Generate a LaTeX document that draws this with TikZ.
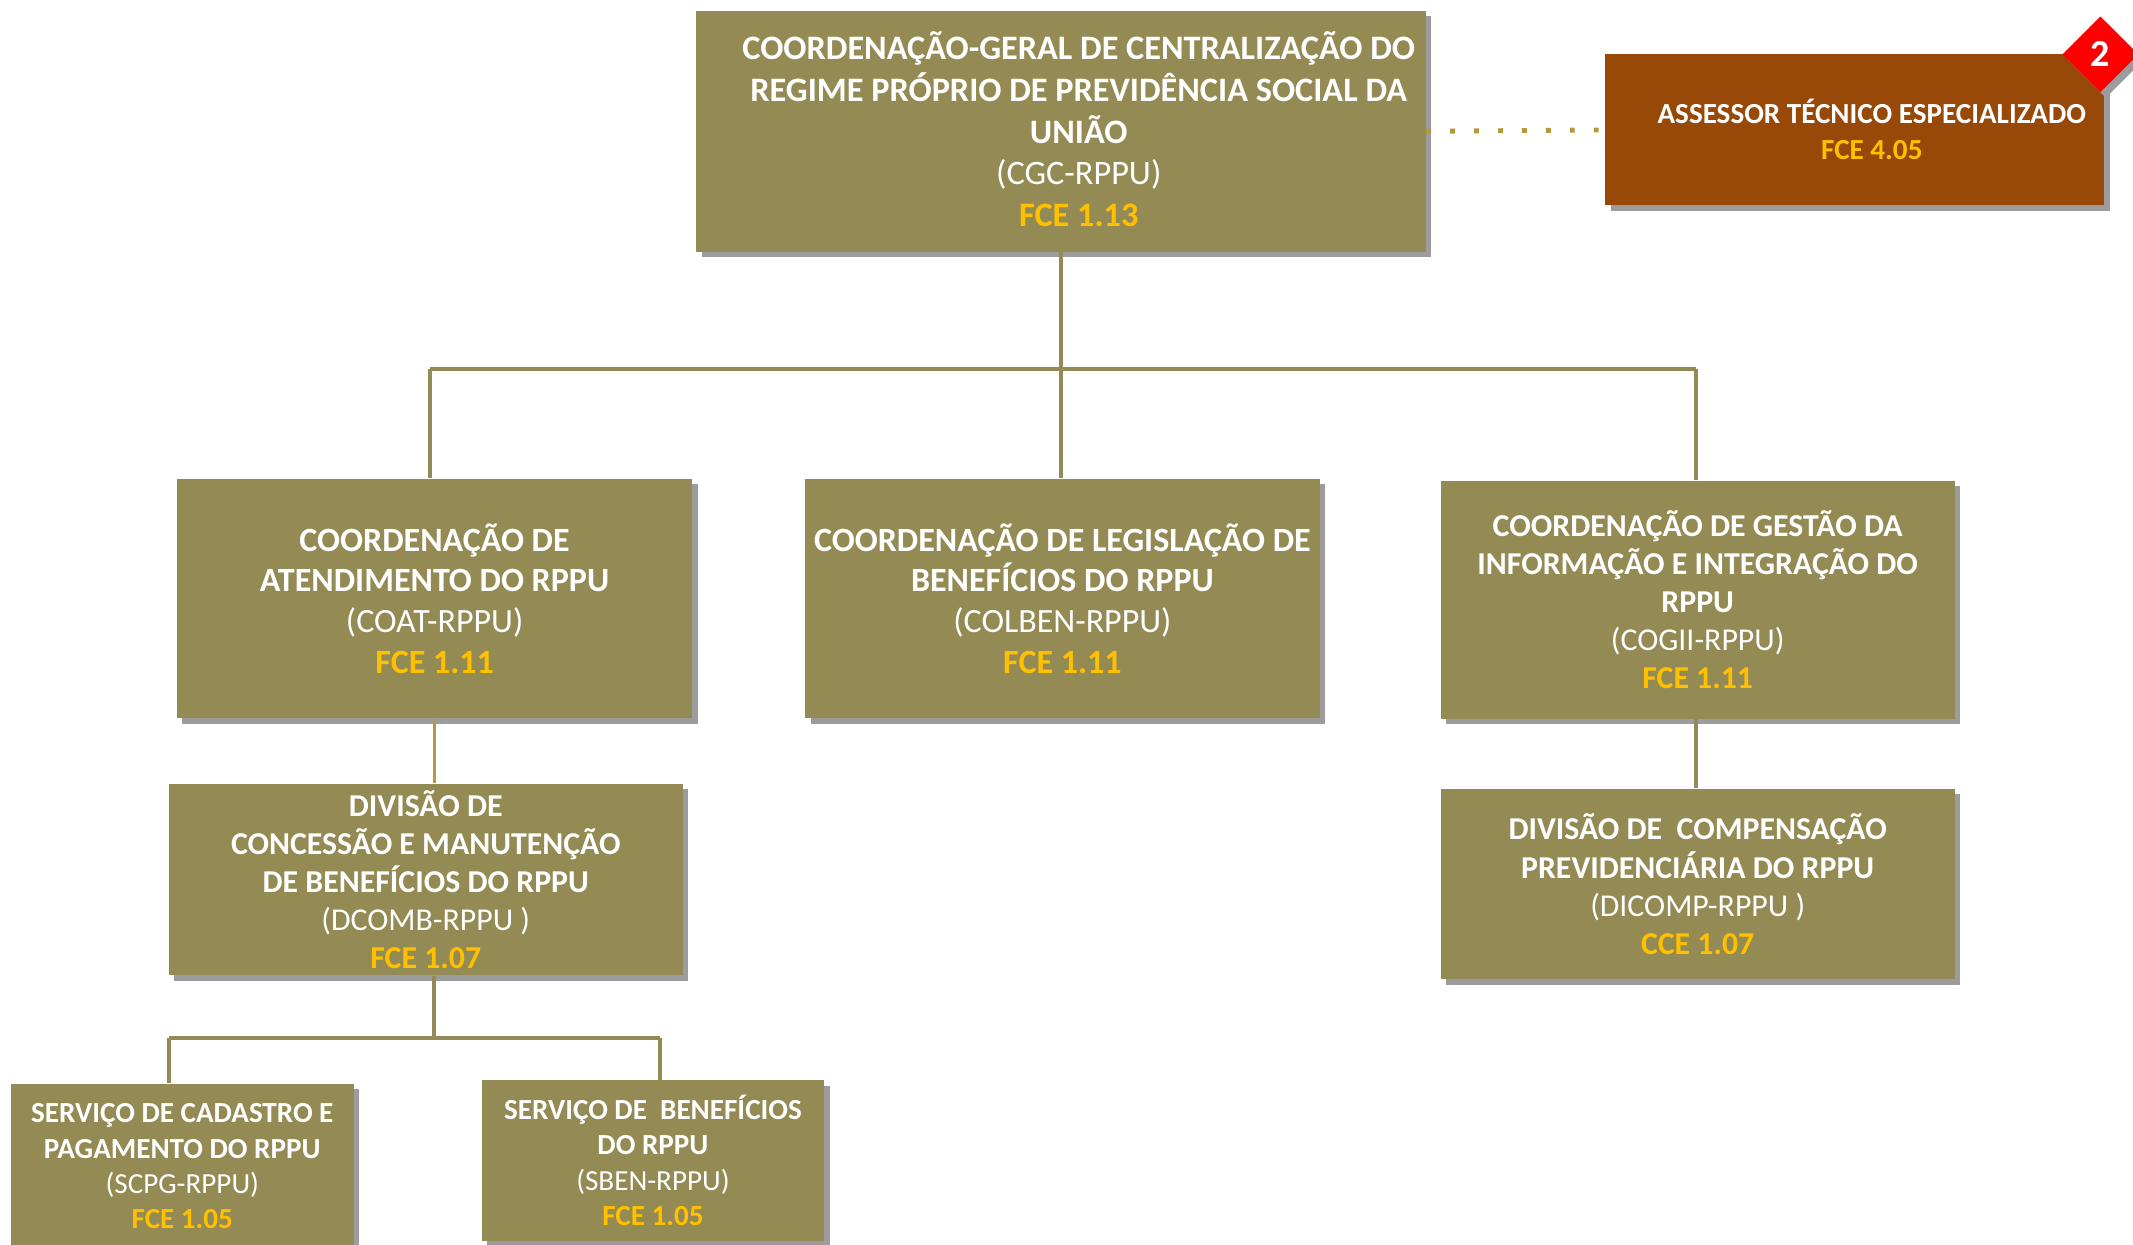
\documentclass[tikz,border=0pt]{standalone}
\usepackage{fontspec}
\setmainfont{Carlito}
\usetikzlibrary{shadows,shapes.geometric}
\definecolor{boxolive}{HTML}{948A54}
\definecolor{boxbrown}{HTML}{984807}
\definecolor{fceyellow}{HTML}{FFC000}
\definecolor{shadowgray}{HTML}{9C9C9C}
\definecolor{lineolive}{HTML}{948A54}
\definecolor{linegold}{HTML}{B59A3C}
\tikzset{
  orgbox/.style={fill=boxolive, text=white, inner sep=0pt, align=center,
    drop shadow={shadow xshift=2pt, shadow yshift=-2pt, fill=shadowgray, opacity=1}},
  fsA/.style={font=\fontsize{12.6}{15.4}\selectfont},
  fsB/.style={font=\fontsize{12.5}{15}\selectfont},
  fsC/.style={font=\fontsize{11.7}{14}\selectfont},
  fsD/.style={font=\fontsize{10.7}{13}\selectfont},
  conn/.style={draw=lineolive, line width=1.4pt},
  conngold/.style={draw=linegold, line width=1.1pt},
  dotline/.style={draw=linegold, line width=1.8pt, dash pattern=on 1.8pt off 7pt},
}
\newcommand{\fce}[1]{\textcolor{fceyellow}{\textbf{#1}}}
\begin{document}
\begin{tikzpicture}[x=0.5pt,y=-0.5pt]
\useasboundingbox (0,0) rectangle (1568,915);

\coordinate (busL) at (316,271);
\coordinate (busM) at (780,271);
\coordinate (busR) at (1247,271);
\coordinate (bus2L) at (124,763);
\coordinate (bus2M) at (319,763);
\coordinate (bus2R) at (485,763);

% boxes
\node[orgbox, minimum width=268pt, minimum height=88.5pt] (top) at (780,96.5) {};
\node[fsA, text=white, align=center, inner sep=0pt] (toptxt) at (793,95)
  {\textbf{COORDENAÇÃO-GERAL DE CENTRALIZAÇÃO DO}\\
   \textbf{REGIME PRÓPRIO DE PREVIDÊNCIA SOCIAL DA}\\
   \textbf{UNIÃO}\\
   (CGC-RPPU)\\
   \fce{FCE 1.13}};

\node[orgbox, fill=boxbrown, minimum width=183.5pt, minimum height=55.5pt] (asr) at (1363.5,95.5) {};
\node[fsD, text=white, align=center, inner sep=0pt] (asrtxt) at (1376,95)
  {\textbf{ASSESSOR TÉCNICO ESPECIALIZADO}\\
   \fce{FCE 4.05}};
\node[diamond, fill=red, text=white, inner sep=0pt, minimum width=28pt, minimum height=28pt,
  font=\fontsize{14}{16}\selectfont\bfseries,
  drop shadow={shadow xshift=2pt, shadow yshift=-2pt, fill=shadowgray, opacity=1}] (badge) at (1544,40) {2};

\node[orgbox, fsB, minimum width=189.5pt, minimum height=88pt] (coat) at (319.5,440)
  {\textbf{COORDENAÇÃO DE}\\
   \textbf{ATENDIMENTO DO RPPU}\\
   (COAT-RPPU)\\
   \fce{FCE 1.11}};

\node[orgbox, fsB, minimum width=189pt, minimum height=88pt] (colben) at (781,440)
  {\textbf{COORDENAÇÃO DE LEGISLAÇÃO DE}\\
   \textbf{BENEFÍCIOS DO RPPU}\\
   (COLBEN-RPPU)\\
   \fce{FCE 1.11}};

\node[orgbox, fsC, minimum width=189pt, minimum height=87.5pt] (cogii) at (1248,441)
  {\textbf{COORDENAÇÃO DE GESTÃO DA}\\
   \textbf{INFORMAÇÃO E INTEGRAÇÃO DO}\\
   \textbf{RPPU}\\
   (COGII-RPPU)\\
   \fce{FCE 1.11}};

\node[orgbox, fsC, minimum width=189pt, minimum height=70.5pt] (dcomb) at (313,646.5)
  {\textbf{DIVISÃO DE}\\
   \textbf{CONCESSÃO E MANUTENÇÃO}\\
   \textbf{DE BENEFÍCIOS DO RPPU}\\
   (DCOMB-RPPU )\\
   \fce{FCE 1.07}};

\node[orgbox, fsC, minimum width=189pt, minimum height=70pt] (dicomp) at (1248,650)
  {\textbf{DIVISÃO DE\ \ COMPENSAÇÃO}\\
   \textbf{PREVIDENCIÁRIA DO RPPU}\\
   (DICOMP-RPPU )\\
   \fce{CCE 1.07}};

\node[orgbox, fsD, minimum width=126pt, minimum height=61pt] (scpg) at (134,857.5)
  {\textbf{SERVIÇO DE CADASTRO E}\\
   \textbf{PAGAMENTO DO RPPU}\\
   (SCPG-RPPU)\\
   \fce{FCE 1.05}};

\node[orgbox, fsD, minimum width=126pt, minimum height=59pt] (sben) at (480,853)
  {\textbf{SERVIÇO DE\ \ BENEFÍCIOS}\\
   \textbf{DO RPPU}\\
   (SBEN-RPPU)\\
   \fce{FCE 1.05}};

% connectors
\draw[conn] (top.south) -- (busM);
\draw[conn] (busL) -- (busR);
\draw[conn] (busL) -- (busL |- coat.north);
\draw[conn] (busM) -- (busM |- colben.north);
\draw[conn] (busR) -- (busR |- cogii.north);
\draw[conngold] (coat.south) -- (coat.south |- dcomb.north);
\draw[conn] (bus2M |- dcomb.south) -- (bus2M);
\draw[conn] (bus2L) -- (bus2R);
\draw[conn] (bus2L) -- (bus2L |- scpg.north);
\draw[conn] (bus2R) -- (bus2R |- sben.north);
\draw[conn] (busR |- cogii.south) -- (busR |- dicomp.north);
\draw[dotline] (top.east) -- (asr.west);
\end{tikzpicture}
\end{document}
